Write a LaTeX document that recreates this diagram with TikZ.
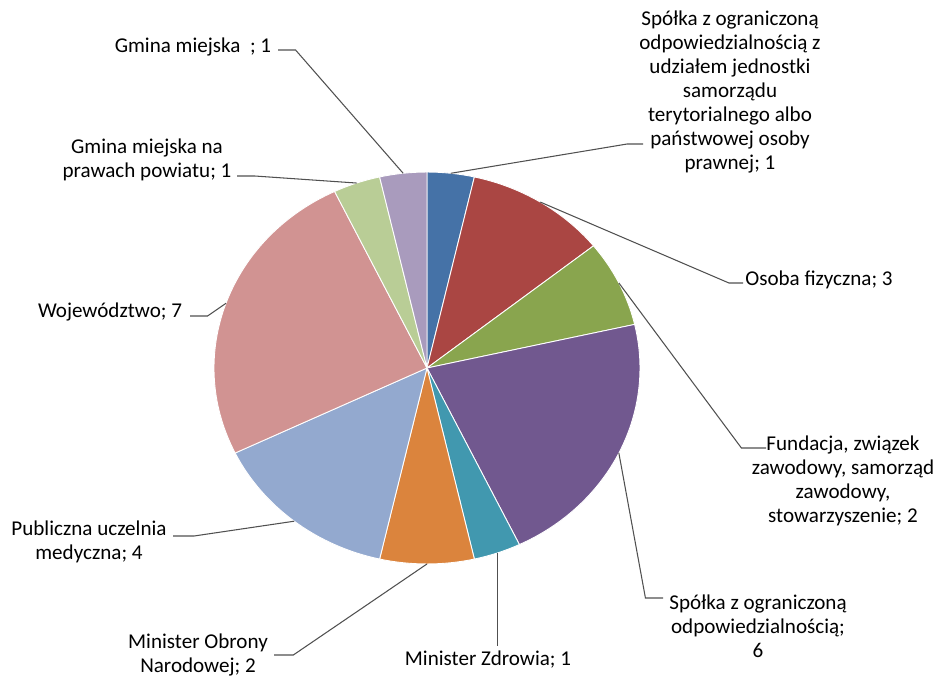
\documentclass[tikz,border=0pt]{standalone}
\usepackage{fontspec}
\setmainfont{Carlito}
\definecolor{Blu}{HTML}{4572A7}
\definecolor{Brick}{HTML}{AA4643}
\definecolor{Olive}{HTML}{89A54E}
\definecolor{Plum}{HTML}{71588F}
\definecolor{Aqua}{HTML}{4198AF}
\definecolor{Amber}{HTML}{DB843D}
\definecolor{Sky}{HTML}{93A9CF}
\definecolor{Rose}{HTML}{D19392}
\definecolor{Sage}{HTML}{B9CD96}
\definecolor{Lilac}{HTML}{A99BBD}
\definecolor{Lead}{HTML}{505050}
\tikzset{slice/.style={draw=white,line width=.5pt,line join=round,x radius=4.26cm,y radius=3.92cm},lead/.style={draw=Lead,line width=.6pt},lab/.style={font=\fontsize{12}{13.6}\selectfont,text=black,align=center,inner sep=0pt}}
\begin{document}
\begin{tikzpicture}[x=0.02cm,y=0.02cm]
\useasboundingbox (0,0) rectangle (940,677);
\coordinate (c) at (427,309);
% slices, clockwise from the top
\fill[slice,fill=Blu] (c) -- ++(90:4.26cm and 3.92cm) arc[start angle=90,end angle=77.143] -- cycle;
\fill[slice,fill=Brick] (c) -- ++(77.143:4.26cm and 3.92cm) arc[start angle=77.143,end angle=38.571] -- cycle;
\fill[slice,fill=Olive] (c) -- ++(38.571:4.26cm and 3.92cm) arc[start angle=38.571,end angle=12.857] -- cycle;
\fill[slice,fill=Plum] (c) -- ++(12.857:4.26cm and 3.92cm) arc[start angle=12.857,end angle=-64.286] -- cycle;
\fill[slice,fill=Aqua] (c) -- ++(-64.286:4.26cm and 3.92cm) arc[start angle=-64.286,end angle=-77.143] -- cycle;
\fill[slice,fill=Amber] (c) -- ++(-77.143:4.26cm and 3.92cm) arc[start angle=-77.143,end angle=-102.857] -- cycle;
\fill[slice,fill=Sky] (c) -- ++(-102.857:4.26cm and 3.92cm) arc[start angle=-102.857,end angle=-154.286] -- cycle;
\fill[slice,fill=Rose] (c) -- ++(-154.286:4.26cm and 3.92cm) arc[start angle=-154.286,end angle=-244.286] -- cycle;
\fill[slice,fill=Sage] (c) -- ++(-244.286:4.26cm and 3.92cm) arc[start angle=-244.286,end angle=-257.143] -- cycle;
\fill[slice,fill=Lilac] (c) -- ++(-257.143:4.26cm and 3.92cm) arc[start angle=-257.143,end angle=-270] -- cycle;
% leader start points on the rim
\path (c) ++(83.571:4.26cm and 3.92cm) coordinate (s1);
\path (c) ++(57.857:4.26cm and 3.92cm) coordinate (s2);
\path (c) ++(25.714:4.26cm and 3.92cm) coordinate (s3);
\path (c) ++(-25.714:4.26cm and 3.92cm) coordinate (s4);
\path (c) ++(-70.714:4.26cm and 3.92cm) coordinate (s5);
\path (c) ++(-90:4.26cm and 3.92cm) coordinate (s6);
\path (c) ++(-128.571:4.26cm and 3.92cm) coordinate (s7);
\path (c) ++(160.714:4.26cm and 3.92cm) coordinate (s8);
\path (c) ++(109.286:4.26cm and 3.92cm) coordinate (s9);
\path (c) ++(96.429:4.26cm and 3.92cm) coordinate (s10);
% labels
\node[lab] (l1) at (730,585) {Spółka z ograniczoną\\odpowiedzialnością z\\udziałem jednostki\\samorządu\\terytorialnego albo\\państwowej osoby\\prawnej; 1};
\node[lab] (l2) at (819,397) {Osoba fizyczna; 3};
\node[lab] (l3) at (843,196) {Fundacja, związek\\zawodowy, samorząd\\zawodowy,\\stowarzyszenie; 2};
\node[lab] (l4) at (758,51) {Spółka z ograniczoną\\odpowiedzialnością;\\6};
\node[lab] (l5) at (488,17) {Minister Zdrowia; 1};
\node[lab] (l6) at (198,22) {Minister Obrony\\Narodowej; 2};
\node[lab] (l7) at (89,135.5) {Publiczna uczelnia\\medyczna; 4};
\node[lab] (l8) at (110,365) {Województwo; 7};
\node[lab] (l9) at (147,517) {Gmina miejska na\\prawach powiatu; 1};
\node[lab] (l10) at (193,630) {Gmina miejska~~; 1};
% label ends of the leaders
\coordinate (t1) at (643,533);
\coordinate (t2) at (743,394);
\coordinate (t3) at (766,229);
\coordinate (t4) at (663,79);
\coordinate (t6) at (274,22);
\coordinate (t7) at (173,141);
\coordinate (t8) at (190,361);
\coordinate (t9) at (237,501);
\coordinate (t10) at (278,627);
\draw[lead] (s1) -- ([xshift=-9]t1) -- (t1);
\draw[lead] (s2) -- ([xshift=-8]t2) -- (t2);
\draw[lead] (s3) -- ([xshift=-14]t3) -- (t3);
\draw[lead] (s4) -- ([xshift=-10]t4) -- (t4);
\draw[lead] (s5) -- ([yshift=3]s5 |- l5.north);
\draw[lead] (s6) -- ([xshift=11]t6) -- (t6);
\draw[lead] (s7) -- ([xshift=12]t7) -- (t7);
\draw[lead] (s8) -- ([xshift=10]t8) -- (t8);
\draw[lead] (s9) -- ([xshift=10]t9) -- (t9);
\draw[lead] (s10) -- ([xshift=10]t10) -- (t10);
\end{tikzpicture}
\end{document}
